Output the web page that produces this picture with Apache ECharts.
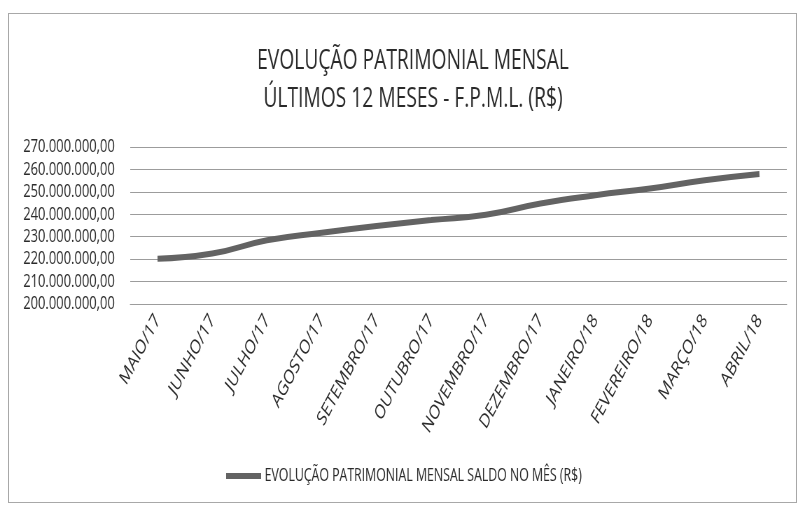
<!DOCTYPE html>
<html>
<head>
<meta charset="utf-8">
<script src="https://cdn.jsdelivr.net/npm/echarts@6/dist/echarts.min.js"></script>
<style>
  html, body { margin: 0; padding: 0; background: #fff; }
  body { width: 800px; height: 510px; overflow: hidden; position: relative; }
  #frame { position: absolute; left: 8px; top: 13px; width: 789px; height: 490px; border: 1px solid #a8a8a8; box-sizing: border-box; z-index: 2; pointer-events: none; }
  /* the scanned original is squeezed horizontally, so the chart is drawn wider and squeezed the same way */
  #chart { position: absolute; left: 0; top: 0; width: 1143px; height: 510px; transform: scaleX(0.7); transform-origin: 0 0; }
</style>
</head>
<body>
<div id="chart"></div>
<div id="frame"></div>
<script>
var months = ["MAIO/17", "JUNHO/17", "JULHO/17", "AGOSTO/17", "SETEMBRO/17", "OUTUBRO/17",
              "NOVEMBRO/17", "DEZEMBRO/17", "JANEIRO/18", "FEVEREIRO/18", "MARÇO/18", "ABRIL/18"];
var saldo = [220200000, 222500000, 228400000, 231800000, 234800000, 237400000,
             239800000, 244800000, 248500000, 251500000, 255200000, 258000000];
var yMin = 200000000, yMax = 270000000, yStep = 10000000;

var seriesName = "EVOLUÇÃO PATRIMONIAL MENSAL SALDO NO MÊS (R$)";
var font = "'Open Sans', 'Noto Sans', sans-serif";

function fmtBRL(v) {
    return Math.round(v).toString().replace(/\B(?=(\d{3})+(?!\d))/g, ".") + ",00";
}

var option = {
    backgroundColor: "#fff",
    title: {
        text: "EVOLUÇÃO PATRIMONIAL MENSAL\nÚLTIMOS 12 MESES - F.P.M.L. (R$)",
        left: 585,
        textAlign: "center",
        top: 37,
        textStyle: {
            color: "#2a2a2a",
            fontFamily: font,
            fontWeight: "normal",
            fontSize: 27.5,
            lineHeight: 38
        }
    },
    legend: {
        bottom: 20,
        left: 318,
        icon: "rect",
        itemWidth: 50,
        itemHeight: 6,
        textStyle: { color: "#2a2a2a", fontFamily: font, fontSize: 17.6 },
        data: [seriesName]
    },
    grid: { left: 186, right: 19, top: 147, bottom: 206 },
    xAxis: {
        type: "category",
        boundaryGap: true,
        data: months,
        axisTick: { show: false },
        axisLine: { lineStyle: { color: "#9c9c9c", width: 1 } },
        axisLabel: {
            rotate: 53,
            margin: 13,
            interval: 0,
            color: "#2a2a2a",
            fontFamily: font,
            fontSize: 20
        }
    },
    yAxis: {
        type: "value",
        min: yMin,
        max: yMax,
        interval: yStep,
        axisLine: { show: false },
        axisTick: { show: false },
        splitLine: { lineStyle: { color: "#9c9c9c", width: 1 } },
        axisLabel: {
            margin: 22,
            color: "#2a2a2a",
            fontFamily: font,
            fontSize: 18.5,
            formatter: fmtBRL
        }
    },
    series: [
        {
            name: seriesName,
            type: "line",
            smooth: true,
            symbol: "none",
            color: "#636363",
            lineStyle: { width: 6, color: "#636363" },
            data: saldo
        }
    ]
};

var chart = echarts.init(document.getElementById("chart"));
chart.setOption(option);
</script>
</body>
</html>
